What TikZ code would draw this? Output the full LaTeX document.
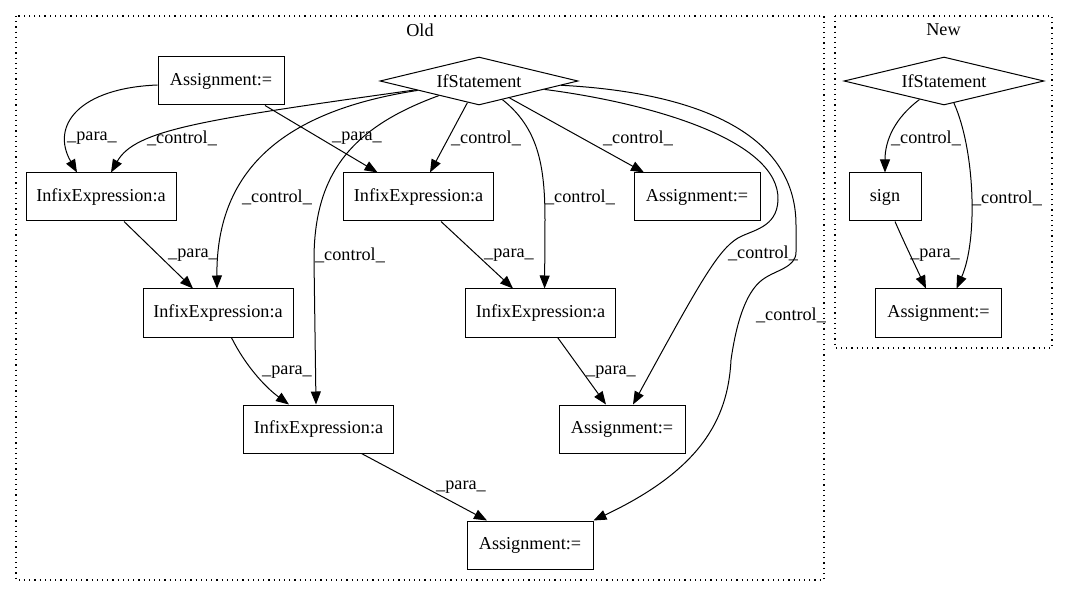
\documentclass[tikz,border=0pt]{standalone}
\usepackage{fontspec}
\setmainfont{Liberation Serif}
\usetikzlibrary{arrows.meta,shapes.geometric,calc}
\begin{document}
\begin{tikzpicture}[x=1pt,y=-1pt,
  every node/.style={font=\fontsize{18.2}{22}\selectfont},
  box/.style={draw,line width=1pt,rectangle,minimum height=48pt,inner sep=0pt},
  cond/.style={draw,line width=1pt,diamond,aspect=4.125,minimum width=198pt,minimum height=48pt,inner sep=0pt},
  edge/.style={line width=1pt,-{Triangle[length=13pt,width=10pt]}},
  lbl/.style={inner sep=0pt},
  cluster/.style={line width=1.1pt,dash pattern=on 1.2pt off 4pt}]
\useasboundingbox (0,0) rectangle (1069,596);
% clusters
\draw[cluster] (16,16) rectangle (824,580);
\draw[cluster] (835,16) rectangle (1052,348);
\node[lbl] (oldlbl) at (420,30) {Old};
\node[lbl] (newlbl) at (943.5,30) {New};
% nodes (Old)
\node[box,minimum width=126pt] (a1) at (221,81) {Assignment:=};
\node[cond] (ifo) at (479,81) {IfStatement};
\node[box,minimum width=150pt] (i1) at (101,197) {InfixExpression:a};
\node[box,minimum width=150pt] (i2) at (418.6,197) {InfixExpression:a};
\node[box,minimum width=126pt] (a2) at (697,197) {Assignment:=};
\node[box,minimum width=150pt] (i3) at (218,313) {InfixExpression:a};
\node[box,minimum width=150pt] (i4) at (540.6,313) {InfixExpression:a};
\node[box,minimum width=150pt] (i5) at (318.5,429) {InfixExpression:a};
\node[box,minimum width=126pt] (a3) at (622,429) {Assignment:=};
\node[box,minimum width=126pt] (a4) at (530,545) {Assignment:=};
% nodes (New)
\node[cond,minimum width=200pt] (ifn) at (944,81) {IfStatement};
\node[box,minimum width=72pt] (sg) at (885,197) {sign};
\node[box,minimum width=126pt] (an) at (938.5,313) {Assignment:=};
% edges (Old)
\draw[edge] ([yshift=-4pt]a1.west) .. controls (80,88) and (50,125) .. ([xshift=-24pt]i1.north);
\draw[edge] (ifo) .. controls (200,120) and (135,130) .. ([xshift=10pt]i1.north);
\draw[edge] ([xshift=44pt]a1.south) -- ([xshift=-41pt]i2.north);
\draw[edge] (ifo) -- ([xshift=11.4pt]i2.north);
\draw[edge] (ifo) .. controls (290,110) and (216,165) .. ([xshift=-1pt]i3.north);
\draw[edge] (ifo) .. controls (350,128) and (314,175) .. (314,260) -- ([xshift=-2.5pt]i5.north);
\draw[edge] (ifo) .. controls (538,128) and (545,165) .. (545,220) -- ([xshift=4pt]i4.north);
\draw[edge] (ifo) -- ([xshift=-53pt]a2.north);
\draw[edge] (ifo) .. controls (650,103) and (780,140) .. (778,200)
  .. controls (777,228) and (752,230) .. (738,238)
  .. controls (718,250) and (700,282) .. ([xshift=11pt]a3.north);
\draw[edge] (ifo) .. controls (690,92) and (796,130) .. (796,225) -- (796,252)
  .. controls (796,268) and (775,270) .. (762,280)
  .. controls (745,293) and (736,325) .. (731,360)
  .. controls (728,420) and (700,470) .. (a4.north east);
\draw[edge] ([xshift=23pt]i1.south) -- ([xshift=-25pt]i3.north);
\draw[edge] ([xshift=22.4pt]i2.south) -- ([xshift=-27.6pt]i4.north);
\draw[edge] ([xshift=13.4pt]i3.south) .. controls (245,365) and (265,387) .. ([xshift=-29.5pt]i5.north);
\draw[edge] ([xshift=17pt]i4.south) -- ([xshift=-16pt]a3.north);
\draw[edge] ([xshift=43pt]i5.south) -- ([xshift=-43pt]a4.north);
% edges (New)
\draw[edge] (ifn) .. controls (895,118) and (885,140) .. (sg.north);
\draw[edge] (ifn) .. controls (975,150) and (978,240) .. ([xshift=18pt]an.north);
\draw[edge] ([xshift=10pt]sg.south) .. controls (903,240) and (915,265) .. ([xshift=-12.5pt]an.north);
% edge labels
\node[lbl] (l1) at (92,138) {\_para\_};
\node[lbl] (l2) at (182,138) {\_control\_};
\node[lbl] (l3) at (357,138) {\_para\_};
\node[lbl] (l4) at (486,138) {\_control\_};
\node[lbl] (l5) at (277,197) {\_control\_};
\node[lbl] (l6) at (350,255) {\_control\_};
\node[lbl] (l7) at (580,197) {\_control\_};
\node[lbl] (l8) at (638,138) {\_control\_};
\node[lbl] (l9) at (763,253) {\_control\_};
\node[lbl] (l10) at (791,315) {\_control\_};
\node[lbl] (l11) at (193,255) {\_para\_};
\node[lbl] (l12) at (509,255) {\_para\_};
\node[lbl] (l13) at (287,372) {\_para\_};
\node[lbl] (l14) at (611,372) {\_para\_};
\node[lbl] (l15) at (461,487) {\_para\_};
\node[lbl] (l16) at (926,138) {\_control\_};
\node[lbl] (l17) at (1007,198) {\_control\_};
\node[lbl] (l18) at (935,255) {\_para\_};
\end{tikzpicture}
\end{document}
